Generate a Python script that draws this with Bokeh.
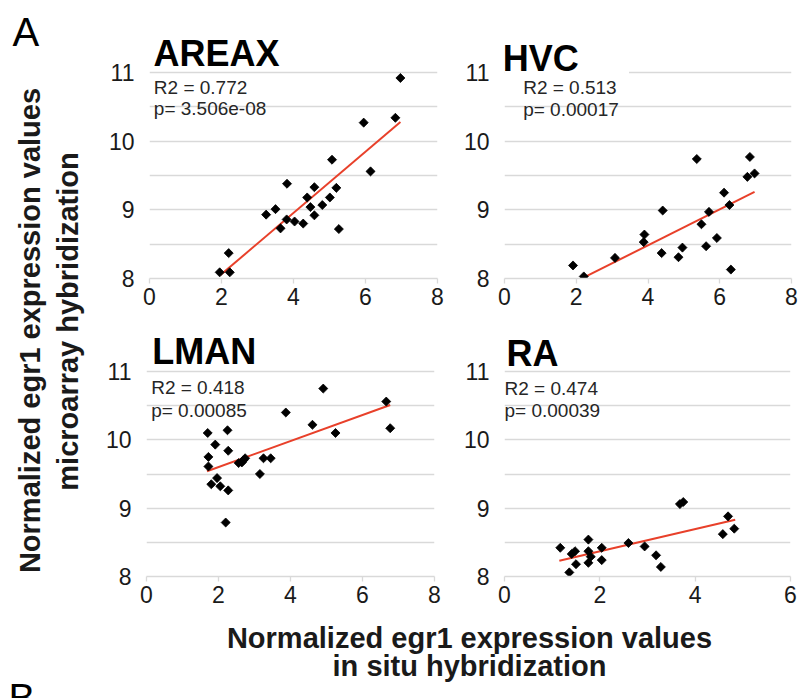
import numpy as np
from bokeh.plotting import figure
from bokeh.layouts import row, column
from bokeh.models import Range1d, FixedTicker, Label, BoxAnnotation
from bokeh.embed import file_html
from bokeh.resources import INLINE
from bokeh.core.properties import value

# ---------------- data ----------------
areax_x = [1.95, 2.23, 2.20, 3.24, 3.50, 3.64, 3.81, 3.82, 4.03, 4.27, 4.38, 4.47,
           4.58, 4.58, 4.80, 5.01, 5.07, 5.19, 5.26, 5.95, 6.14, 6.83, 6.97]
areax_y = [8.09, 8.09, 8.37, 8.93, 9.01, 8.73, 8.86, 9.38, 8.83, 8.80, 9.18, 9.04,
           9.33, 8.92, 9.07, 9.18, 9.73, 9.32, 8.72, 10.27, 9.56, 10.34, 10.92]
areax_trend_x = [1.97, 6.97]
areax_trend_y = [8.05, 10.28]

hvc_x = [1.91, 2.21, 3.08, 3.88, 3.90, 4.38, 4.41, 4.85, 4.96, 5.36, 5.49, 5.62,
         5.70, 5.92, 6.12, 6.27, 6.31, 6.77, 6.84, 6.97]
hvc_y = [8.19, 8.03, 8.30, 8.53, 8.64, 8.37, 8.99, 8.31, 8.45, 9.74, 8.79, 8.47,
         8.97, 8.59, 9.25, 9.07, 8.13, 9.48, 9.77, 9.53]
hvc_trend_x = [2.23, 6.97]
hvc_trend_y = [8.02, 9.26]

lman_x = [1.70, 1.72, 1.72, 1.80, 1.91, 1.96, 2.05, 2.20, 2.25, 2.27, 2.27, 2.56,
          2.65, 2.69, 2.74, 3.15, 3.25, 3.45, 3.87, 4.61, 4.91, 5.25, 6.66, 6.77]
lman_y = [10.10, 9.75, 9.61, 9.35, 9.93, 9.44, 9.32, 8.79, 10.14, 9.84, 9.26, 9.66,
          9.67, 9.70, 9.73, 9.50, 9.73, 9.73, 10.40, 10.22, 10.75, 10.10, 10.56, 10.17]
lman_trend_x = [1.68, 6.77]
lman_trend_y = [9.54, 10.51]

ra_x = [1.17, 1.36, 1.41, 1.48, 1.50, 1.76, 1.76, 1.76, 1.81, 2.04, 2.04, 2.60,
        2.94, 3.18, 3.28, 3.68, 3.75, 4.58, 4.69, 4.82]
ra_y = [8.42, 8.06, 8.33, 8.37, 8.18, 8.54, 8.37, 8.20, 8.29, 8.42, 8.24, 8.49,
        8.44, 8.31, 8.14, 9.06, 9.09, 8.62, 8.88, 8.70]
ra_trend_x = [1.15, 4.84]
ra_trend_y = [8.23, 8.83]

titles = ["AREAX", "HVC", "LMAN", "RA"]
r2_texts = ["R2 = 0.772", "R2 = 0.513", "R2 = 0.418", "R2 = 0.474"]
p_texts = ["p= 3.506e-08", "p= 0.00017", "p= 0.00085", "p= 0.00039"]
y_ticks = [8, 9, 10, 11]
y_minor = [8.5, 9.5, 10.5]
x_ticks_8 = [0, 2, 4, 6, 8]
x_ticks_6 = [0, 2, 4, 6]
y_label_lines = ["Normalized egr1 expression values", "microarray hybridization"]
x_label_lines = ["Normalized egr1 expression values", "in situ hybridization"]

FONT = value("Liberation Sans")
GRID = "#d9d9d9"
RED = "#e8402a"
MID = 0.3465  # baseline offset below the box middle, in em


def panel(x, y, tx, ty, title, r2, pv, xmax, xticks, w, h, bl, br,
          frame_top, y11, y8, fig_top, title_pos, stats_pos, hide_box=None):
    # frame_top, y11, y8, fig_top are page pixels
    ppu = (y8 - y11) / 3.0
    ytop = 11 + (y11 - frame_top) / ppu
    bt = frame_top - fig_top
    bb = h - bt - (y8 - frame_top)
    p = figure(width=w, height=h, x_range=Range1d(0, xmax), y_range=Range1d(8, ytop),
               output_backend="svg", toolbar_location=None,
               min_border_left=bl, min_border_right=br,
               min_border_top=bt, min_border_bottom=bb)
    p.outline_line_color = None
    p.background_fill_color = "white"
    p.xgrid.grid_line_color = None
    p.ygrid.grid_line_color = GRID
    p.ygrid.grid_line_width = 1.3
    p.ygrid.minor_grid_line_color = GRID
    p.ygrid.minor_grid_line_width = 1.3
    p.yaxis.ticker = FixedTicker(ticks=y_ticks, minor_ticks=y_minor)
    p.xaxis.ticker = FixedTicker(ticks=xticks, minor_ticks=[])
    for ax in (p.xaxis, p.yaxis):
        ax.major_label_text_font = "Liberation Sans"
        ax.major_label_text_font_size = "23px"
        ax.major_label_text_color = "#1a1a1a"
        ax.minor_tick_line_color = None
    p.yaxis.axis_line_color = None
    p.yaxis.major_tick_line_color = None
    p.yaxis.major_tick_out = 0
    p.yaxis.major_tick_in = 0
    p.yaxis.major_label_standoff = 11
    p.xaxis.axis_line_color = GRID
    p.xaxis.axis_line_width = 1.3
    p.xaxis.major_tick_line_color = GRID
    p.xaxis.major_tick_line_width = 1.3
    p.xaxis.major_tick_out = 5
    p.xaxis.major_tick_in = 0
    p.xaxis.major_label_standoff = 4

    if hide_box is not None:
        p.add_layout(BoxAnnotation(left=hide_box[0], right=hide_box[1],
                                   bottom=10.975, top=11.04,
                                   fill_color="white", fill_alpha=1.0,
                                   line_color=None))

    p.line(tx, ty, line_color=RED, line_width=2)
    p.scatter(x, y, marker="square", size=6.4, angle=np.pi / 4,
              fill_color="black", line_color="black", line_width=0.8)

    def yv(page_baseline, fs):
        return 11 - (page_baseline - MID * fs - y11) / ppu

    p.add_layout(Label(x=title_pos[0], y=yv(title_pos[1], 36), text=title,
                       text_font="Liberation Sans", text_font_style="bold",
                       text_font_size="36px", text_color="black",
                       text_baseline="middle", text_align="left"))
    for txt, base in ((r2, stats_pos[1]), (pv, stats_pos[2])):
        p.add_layout(Label(x=stats_pos[0], y=yv(base, 19), text=txt,
                           text_font="Liberation Sans", text_font_size="19px",
                           text_color="#262626", text_baseline="middle",
                           text_align="left"))
    return p


TOP_H = 315
BOT_H = 300

p1 = panel(areax_x, areax_y, areax_trend_x, areax_trend_y, titles[0], r2_texts[0],
           p_texts[0], 8, x_ticks_8, 360, TOP_H, 49, 23, 28, 72, 278, 0,
           (0.11, 65), (0.12, 94, 115))
p2 = panel(hvc_x, hvc_y, hvc_trend_x, hvc_trend_y, titles[1], r2_texts[1],
           p_texts[1], 8, x_ticks_8, 340, TOP_H, 43, 9, 28, 72, 278, 0,
           (-0.05, 70), (0.52, 94, 116), hide_box=(0.0, 3.47))
p3 = panel(lman_x, lman_y, lman_trend_x, lman_trend_y, titles[2], r2_texts[2],
           p_texts[2], 8, x_ticks_8, 360, BOT_H, 46, 26, 330, 371, 576, TOP_H,
           (0.16, 363), (0.13, 394, 416.7))
p4 = panel(ra_x, ra_y, ra_trend_x, ra_trend_y, titles[3], r2_texts[3],
           p_texts[3], 6, x_ticks_6, 340, BOT_H, 43, 10, 330, 371, 576, TOP_H,
           (0.04, 365), (0.0, 395, 417))


def text_fig(w, h):
    f = figure(width=w, height=h, x_range=Range1d(0, w), y_range=Range1d(0, h),
               output_backend="svg", toolbar_location=None,
               min_border=0)
    f.axis.visible = False
    f.grid.visible = False
    f.outline_line_color = None
    return f


LEFT_W = 100
LEFT_H = TOP_H + BOT_H
TFS = 29  # axis-title font size
left = text_fig(LEFT_W, LEFT_H)
left.text(x=[12], y=[LEFT_H - (45 - MID * 40)], text=["A"], text_font=FONT,
          text_font_size="40px", text_color="black", text_baseline="middle")
left.text(x=[39.6 - MID * TFS, 77.1 - MID * TFS], y=[LEFT_H - 330, LEFT_H - 321],
          text=y_label_lines, angle=np.pi / 2, text_font=FONT,
          text_font_style="bold", text_font_size=f"{TFS}px", text_color="#1a1a1a",
          text_align="center", text_baseline="middle")

BOTTOM_H = 698 - LEFT_H
bottom = text_fig(800, BOTTOM_H)
bottom.text(x=[469, 469], y=[698 - (648 - MID * TFS), 698 - (676 - MID * TFS)],
            text=x_label_lines, text_font=FONT, text_font_style="bold",
            text_font_size=f"{TFS}px", text_color="#1a1a1a",
            text_align="center", text_baseline="middle")
bottom.text(x=[8], y=[698 - (711.6 - MID * 40)], text=["B"], text_font=FONT,
            text_font_size="40px", text_color="black", text_baseline="middle")

layout = column(row(left, column(row(p1, p2), row(p3, p4))), bottom)

open("out.html", "w").write(file_html(layout, INLINE))
